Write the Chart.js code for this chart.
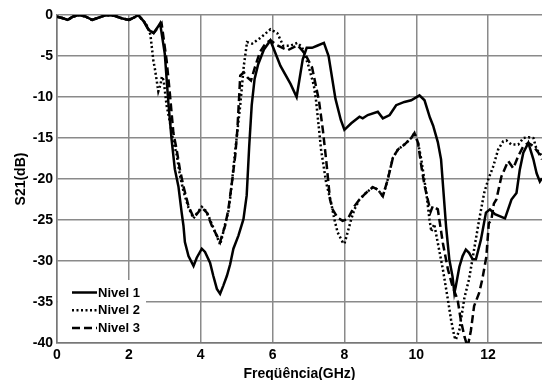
<!DOCTYPE html>
<html>
<head>
<meta charset="utf-8">
<script src="https://cdn.jsdelivr.net/npm/chart.js@4/dist/chart.umd.min.js"></script>
<style>
  html, body { margin: 0; padding: 0; background: #fff; }
  #wrap { width: 542px; height: 380px; }
</style>
</head>
<body>
<div id="wrap"><canvas id="s21Chart" width="542" height="380"></canvas></div>
<script>
// Data (GHz, dB)
var freq1 = [0.0, 0.17, 0.3, 0.44, 0.63, 0.8, 0.98, 1.17, 1.36, 1.6, 1.8, 2.0, 2.15, 2.26, 2.42, 2.55, 2.69, 2.8, 2.87,
  3.0, 3.1, 3.19, 3.28, 3.38, 3.47, 3.52, 3.56, 3.66, 3.8, 3.89, 4.03, 4.12, 4.26, 4.35, 4.45, 4.54, 4.63, 4.73, 4.82, 4.91,
  5.05, 5.19, 5.28, 5.35, 5.42, 5.5, 5.6, 5.76, 5.94, 6.22, 6.5, 6.67, 6.84, 6.95, 7.1, 7.24, 7.43, 7.56, 7.75, 7.9,
  8.0, 8.19, 8.42, 8.51, 8.65, 8.93, 9.07, 9.26, 9.44, 9.67, 9.86, 10.09, 10.23, 10.38, 10.47, 10.6, 10.69, 10.83, 10.92,
  11.01, 11.06, 11.1, 11.2, 11.29, 11.38, 11.47, 11.57, 11.66, 11.8, 11.94, 12.05, 12.19, 12.47, 12.65, 12.79, 12.88,
  12.98, 13.12, 13.26, 13.35, 13.44, 13.5];
var nivel1 = [-0.2, -0.4, -0.6, -0.2, 0, -0.2, -0.6, -0.3, 0, -0.1, -0.4, -0.6, -0.3, 0, -0.8, -1.8, -2.2, -1.5, -1.0,
  -4.7, -10.7, -15.2, -18.8, -20.9, -24.1, -25.7, -27.7, -29.4, -30.6, -29.6, -28.5, -28.9, -30.2, -31.8, -33.4, -34.0, -33, -31.8, -30.4, -28.5,
  -26.9, -24.9, -22, -16, -11, -7.8, -6, -4.2, -3.1, -6.2, -8.4, -10, -5.4, -4.0, -4.0, -3.75, -3.4, -5.0, -10.2, -12.8,
  -14, -13.2, -12.4, -12.6, -12.2, -11.8, -12.6, -12.2, -11, -10.6, -10.4, -9.8, -10.4, -12.5, -13.5, -15.5, -17.6, -25.8, -29.8,
  -31.9, -33.9, -33.1, -30.7, -29.4, -28.6, -29, -29.8, -29.8, -27.4, -24.1, -23.7, -24.3, -24.8, -22.5, -21.7, -18.9,
  -16.8, -15.6, -17.6, -19.3, -20.3, -19.9];

var freq2 = [0.0, 0.17, 0.3, 0.44, 0.63, 0.8, 0.98, 1.17, 1.36, 1.6, 1.8, 2.0, 2.15, 2.26, 2.42, 2.52, 2.6, 2.68, 2.73, 2.82,
  2.88, 2.92, 2.97, 3.05, 3.14, 3.24, 3.33, 3.42, 3.52, 3.66, 3.8, 3.89, 4.03, 4.17, 4.31, 4.45, 4.54, 4.6, 4.68, 4.77,
  4.83, 4.97, 5.1, 5.2, 5.29, 5.43, 5.66, 5.94, 6.13, 6.3, 6.5, 6.69, 6.82, 7.0, 7.15, 7.21, 7.35, 7.49, 7.63, 7.72,
  7.81, 7.95, 8.0, 8.09, 8.19, 8.28, 8.42, 8.6, 8.79, 8.93, 9.07, 9.21, 9.35, 9.49, 9.67, 9.86, 9.95, 10.05, 10.14, 10.28,
  10.37, 10.42, 10.5, 10.6, 10.74, 10.88, 10.97, 11.06, 11.1, 11.2, 11.34, 11.47, 11.61, 11.75, 11.89, 12.0, 12.14, 12.28,
  12.42, 12.51, 12.65, 12.84, 12.98, 13.12, 13.26, 13.35, 13.5];
var nivel2 = [-0.2, -0.4, -0.6, -0.2, 0, -0.2, -0.6, -0.3, 0, -0.1, -0.4, -0.6, -0.3, 0, -0.8, -1.4, -2.4, -5.5, -6.7, -9.3,
  -8.5, -7.5, -8, -11, -13, -15.5, -17, -19.5, -21.5, -23.5, -24.8, -24.2, -23.4, -24, -25.5, -27, -28, -27, -25.5, -24,
  -22, -16.2, -11, -6.2, -3.3, -3.5, -2.8, -1.75, -2.2, -3.75, -3.75, -3.4, -3.9, -6.2, -8.6, -10.4, -16.4, -20.4, -22.9, -24.9,
  -26.5, -27.7, -27.9, -26.5, -24.9, -23.7, -22.5, -21.7, -21, -21.3, -22.1, -20, -17.4, -16.4, -15.8, -15, -14.4, -15.6, -17.6, -21.7,
  -25, -26.4, -25.5, -27.8, -31, -34.7, -37.2, -39.2, -39.6, -38.4, -34.5, -32.2, -28.6, -25, -21.7, -20.1, -18.5, -16.4,
  -15.4, -15.3, -15.8, -15.8, -15, -14.9, -15, -16.4, -17.2];

var freq3 = [0.0, 0.17, 0.3, 0.44, 0.63, 0.8, 0.98, 1.17, 1.36, 1.6, 1.8, 2.0, 2.15, 2.26, 2.42, 2.55, 2.69, 2.8, 2.91,
  3.05, 3.14, 3.24, 3.33, 3.42, 3.52, 3.66, 3.8, 3.89, 4.03, 4.17, 4.31, 4.45, 4.54, 4.59, 4.68, 4.77, 4.87, 4.96, 5.02,
  5.07, 5.1, 5.2, 5.3, 5.4, 5.5, 5.65, 5.8, 5.94, 6.13, 6.42, 6.7, 6.9, 7.1, 7.29, 7.4, 7.5, 7.6, 7.67, 7.81, 7.95,
  8.09, 8.28, 8.42, 8.6, 8.79, 8.93, 9.07, 9.21, 9.35, 9.49, 9.67, 9.86, 9.95, 10.05, 10.14, 10.23, 10.32, 10.4, 10.46,
  10.6, 10.74, 10.88, 11.01, 11.15, 11.24, 11.34, 11.43, 11.52, 11.61, 11.75, 11.84, 11.95, 12.02, 12.09, 12.16, 12.23,
  12.37, 12.56, 12.7, 12.84, 12.98, 13.12, 13.26, 13.4, 13.5];
var nivel3 = [-0.2, -0.4, -0.6, -0.2, 0, -0.2, -0.6, -0.3, 0, -0.1, -0.4, -0.6, -0.3, 0, -0.8, -1.8, -2.2, -1.6, -1.0,
  -5.5, -9.5, -14.4, -16.4, -18.8, -20.9, -23.3, -24.7, -24.3, -23.5, -24.1, -25.7, -26.9, -27.7, -26.9, -25.7, -23.7, -20.4, -17.2, -14,
  -10, -7.4, -7.0, -7.6, -8.0, -6.5, -4.5, -3.5, -3.07, -3.7, -4.3, -3.7, -4.7, -6.4, -10.4, -14, -18, -22.5, -23.7, -24.7, -25.1,
  -24.9, -23.3, -22.5, -21.7, -21, -21.3, -22.1, -20, -17.4, -16.4, -15.8, -15, -14.4, -15.6, -18.4, -20.8, -22.5, -24, -23.3,
  -23.7, -27.8, -31, -33.1, -34.7, -37.2, -39.2, -40.5, -38.5, -35.5, -33.9, -32.2, -29.5, -25.4, -25, -23, -22.5,
  -19.7, -17.8, -18.7, -17.2, -16, -15.6, -16, -16.8, -17.6];

var seriesNames = ['Nivel 1', 'Nivel 2', 'Nivel 3'];
var xTicks = [0, 2, 4, 6, 8, 10, 12];

function toPoints(xs, ys) {
  return xs.map(function (x, i) { return { x: x, y: ys[i] }; });
}

var lineDashes = [[], [2, 2.5], [8, 4]];

// legend drawn inside the plot, lower left, on a white box
var insideLegend = {
  id: 'insideLegend',
  afterDatasetsDraw: function (chart) {
    var ctx = chart.ctx;
    var area = chart.chartArea;
    ctx.save();
    ctx.fillStyle = '#fff';
    ctx.fillRect(area.left + 1, 280, 88, area.bottom - 280 - 1);
    ctx.font = 'bold 13px "Liberation Sans", Arial, sans-serif';
    ctx.textBaseline = 'middle';
    for (var i = 0; i < seriesNames.length; i++) {
      var y = 292.5 + i * 17.7;
      ctx.strokeStyle = '#000';
      ctx.lineWidth = 2.5;
      ctx.setLineDash(lineDashes[i]);
      ctx.beginPath();
      ctx.moveTo(72, y);
      ctx.lineTo(97, y);
      ctx.stroke();
      ctx.setLineDash([]);
      ctx.fillStyle = '#000';
      ctx.fillText(seriesNames[i], 98, y + 0.5);
    }
    ctx.restore();
  }
};

var tickFont = { family: '"Liberation Sans", Arial, sans-serif', size: 14, weight: 'bold' };
var titleFont = { family: '"Liberation Sans", Arial, sans-serif', size: 14, weight: 'bold', lineHeight: 1 };

var ctx = document.getElementById('s21Chart').getContext('2d');
var s21Chart = new Chart(ctx, {
  type: 'line',
  data: {
    datasets: [
      { label: seriesNames[0], data: toPoints(freq1, nivel1), borderColor: '#000', borderWidth: 2.5, borderDash: lineDashes[0] },
      { label: seriesNames[1], data: toPoints(freq2, nivel2), borderColor: '#000', borderWidth: 2.5, borderDash: lineDashes[1] },
      { label: seriesNames[2], data: toPoints(freq3, nivel3), borderColor: '#000', borderWidth: 2.5, borderDash: lineDashes[2] }
    ]
  },
  options: {
    responsive: false,
    animation: false,
    layout: { padding: { top: 15, right: 0, left: 0, bottom: 0 } },
    elements: { point: { radius: 0 }, line: { tension: 0, borderCapStyle: 'butt' } },
    plugins: { legend: { display: false }, tooltip: { enabled: false } },
    scales: {
      x: {
        type: 'linear',
        min: 0,
        max: 13.5,
        afterBuildTicks: function (scale) {
          scale.ticks = xTicks.map(function (v) { return { value: v }; });
        },
        afterFit: function (scale) { scale.height = 37; },
        ticks: { color: '#000', font: tickFont, padding: 4, maxRotation: 0 },
        grid: { color: '#8a8a8a', lineWidth: 1.5, drawTicks: false },
        border: { color: '#777', width: 1.5 },
        title: { display: true, text: 'Freqüência(GHz)', color: '#000', font: titleFont, padding: { top: 0, bottom: -1 } }
      },
      y: {
        min: -40,
        max: 0,
        afterFit: function (scale) { scale.width = 57; },
        ticks: { stepSize: 5, color: '#000', font: tickFont, padding: 4 },
        grid: { color: '#8a8a8a', lineWidth: 1.5, drawTicks: false },
        border: { color: '#777', width: 1.5 },
        title: { display: true, text: 'S21(dB)', color: '#000', font: titleFont, padding: { top: 14, bottom: 0 } }
      }
    }
  },
  plugins: [insideLegend]
});
</script>
</body>
</html>
